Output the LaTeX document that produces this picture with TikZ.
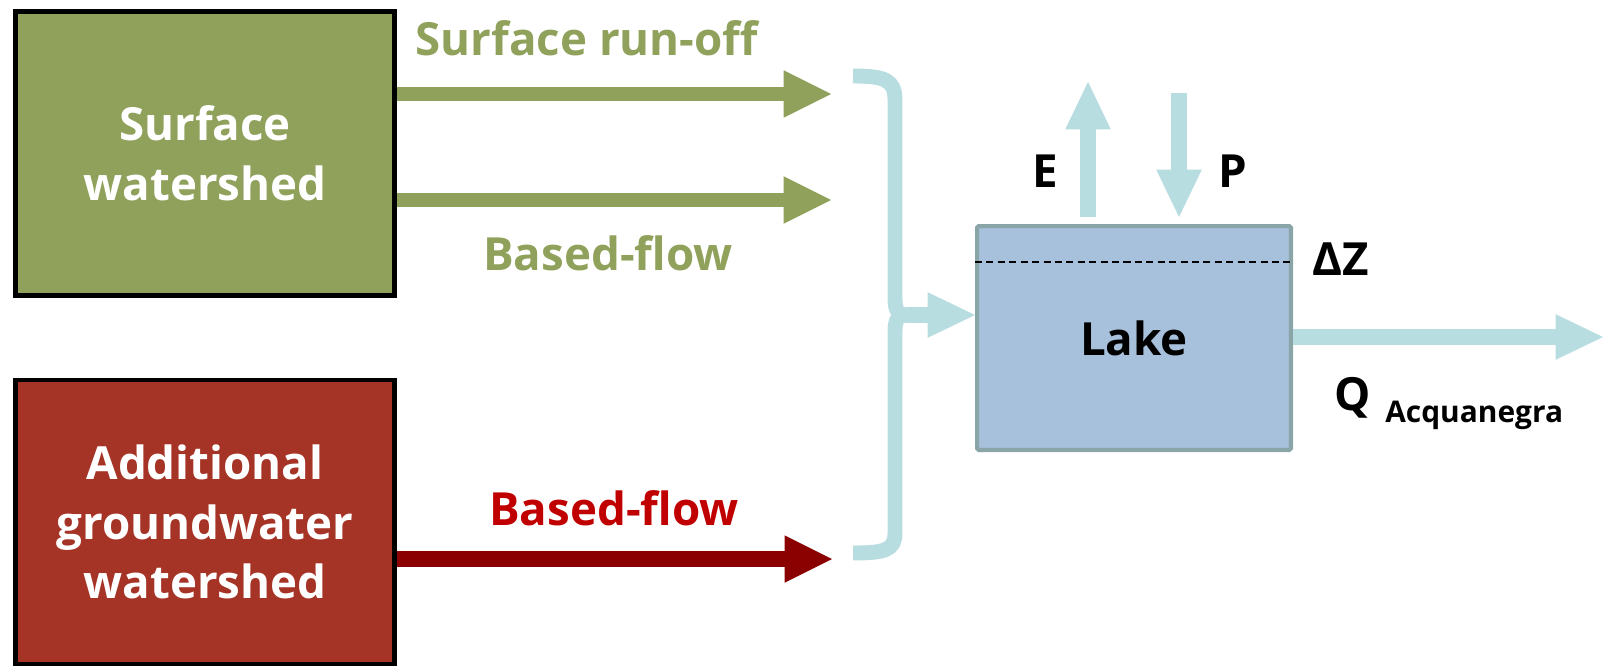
\documentclass[tikz,border=0pt]{standalone}
\usepackage{fontspec}
\setmainfont{Open Sans}
\usetikzlibrary{arrows.meta,positioning}

\definecolor{shedgreen}{HTML}{8FA15A}
\definecolor{shedred}{HTML}{A53426}
\definecolor{flowred}{HTML}{8B0000}
\definecolor{labelred}{HTML}{C00000}
\definecolor{waterblue}{HTML}{B7DDE1}
\definecolor{lakefill}{HTML}{A7C0DB}
\definecolor{lakeedge}{HTML}{8AA5A8}

\begin{document}
\begin{tikzpicture}[x=0.02cm,y=-0.02cm,font=\bfseries\fontsize{26}{34}\selectfont,
    box/.style={draw=black,line width=2.6pt,minimum width=7.58cm,minimum height=5.68cm,text=white,align=center},
    greenflow/.style={draw=shedgreen,line width=8pt,-{Triangle[length=27pt,width=27pt,line width=0pt]}},
    redflow/.style={draw=flowred,line width=9pt,-{Triangle[length=27pt,width=27pt,line width=0pt]}},
    blueflow/.style={draw=waterblue,line width=9pt,-{Triangle[length=27pt,width=26pt,line width=0pt]}},
    brace line/.style={draw=waterblue,line width=8.5pt}]

            \useasboundingbox (0,0) rectangle (1604,666);

            \node[box, fill=shedgreen] (sw) at (205,153.5) {Surface\\watershed};
            \node[box, fill=shedred] (gw) at (205,522) {Additional\\groundwater\\watershed};
            \node[draw=lakeedge, fill=lakefill, line width=2.3pt, rounded corners=1pt, minimum width=6.28cm, minimum height=4.48cm] (lake) at (1134,338) {Lake};

            \coordinate (tip1) at (831,94);
            \coordinate (tip2) at (831,200);
            \coordinate (tip3) at (832,559);
            \coordinate (join) at (908,315);
            \coordinate (Etip) at (1088,82);
            \coordinate (Ptop) at (1179,93);
            \coordinate (Qtip) at (1603,337);

            \draw[greenflow] (sw.east |- tip1) -- (tip1);
            \draw[greenflow] (sw.east |- tip2) -- (tip2);
            \draw[redflow] (gw.east |- tip3) -- (tip3);

            \draw[brace line] (853,76) .. controls (885,76) and (895,80) .. (895,100) -- (895,298) .. controls (895,311) and (898,315) .. (join);
            \draw[brace line] (join) .. controls (898,315) and (895,319) .. (895,332) -- (895,533) .. controls (895,550) and (885,553) .. (853,553);
            \draw[blueflow] (join) -- (lake.west |- join);

            \draw[blueflow] ([yshift=4pt]lake.north -| Etip) -- (Etip);
            \draw[blueflow] (Ptop) -- ([yshift=4pt]lake.north -| Ptop);
            \draw[blueflow] (lake.east |- Qtip) -- (Qtip);
            \draw[line width=0.9pt, dash pattern=on 4pt off 2.5pt] ([yshift=-21.5pt]lake.north west) -- ([yshift=-21.5pt]lake.north east);

            \node[text=shedgreen] (runoff) at (587,38) {Surface run-off};
            \node[text=shedgreen] (base1) at (608,253) {Based-flow};
            \node[text=labelred] (base2) at (614,508) {Based-flow};
            \node (E) at (1045,171) {E};
            \node (P) at (1233,171) {P};
            \node (dz) at (1341,259) {ΔZ};
            \node[anchor=base west, inner sep=0pt] (Q) at (1334,410) {Q};
            \node[anchor=base west, inner sep=0pt, font=\bfseries\fontsize{17}{20}\selectfont] (acq) at (1385,422) {Acquanegra};

        \end{tikzpicture}
\end{document}
